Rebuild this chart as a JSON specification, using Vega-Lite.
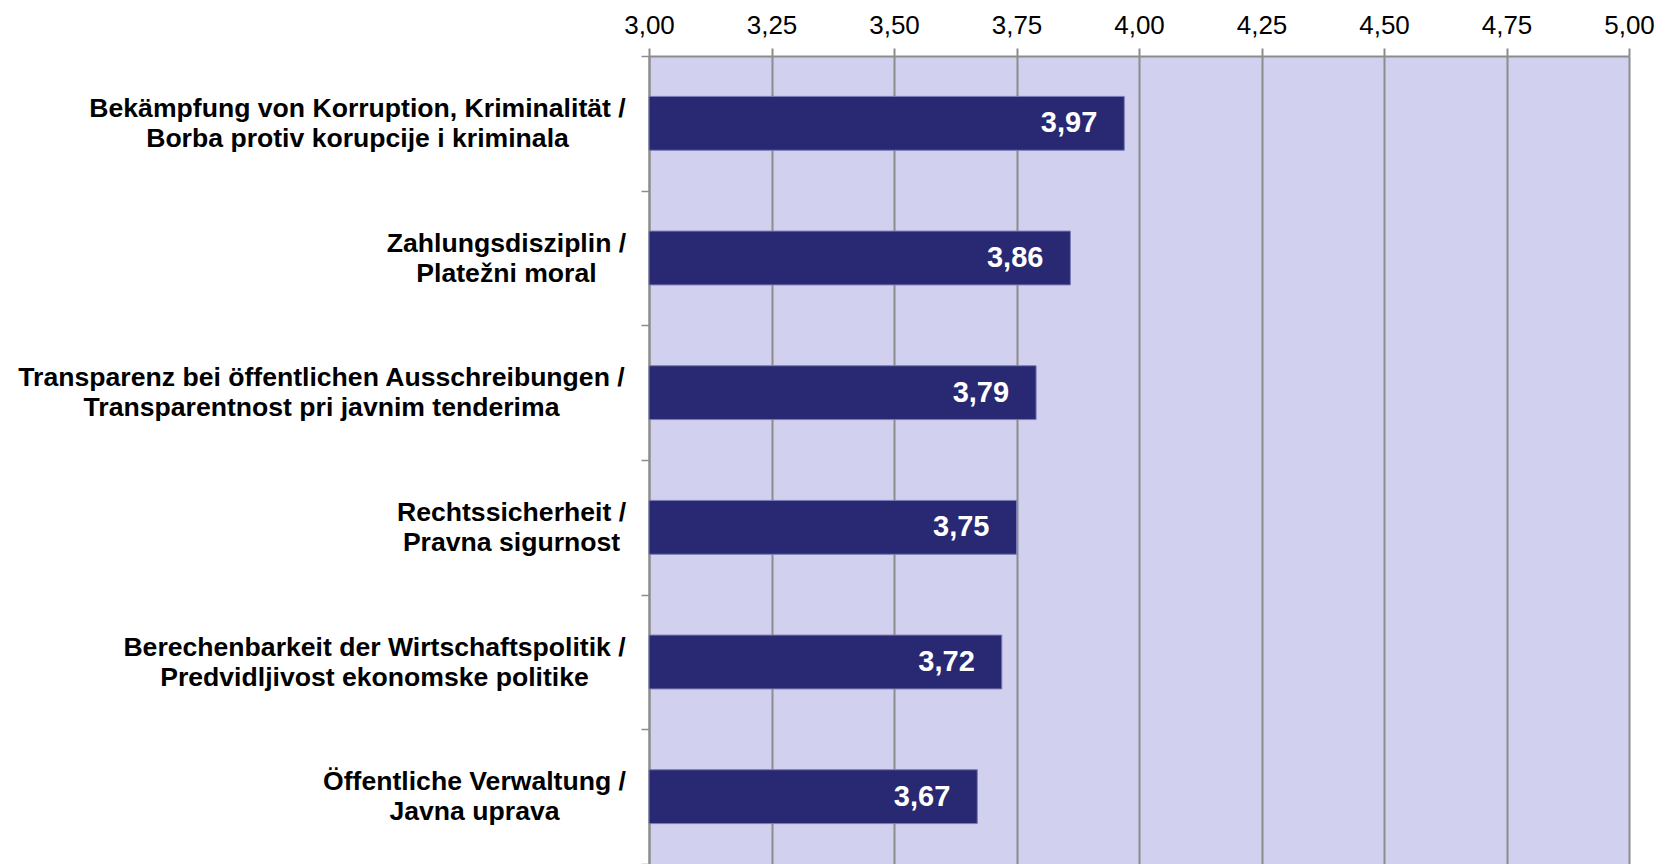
{
  "$schema": "https://vega.github.io/schema/vega-lite/v6.json",
  "width": 980,
  "height": 808,
  "autosize": {"type": "none"},
  "padding": {"left": 649, "top": 56, "right": 41, "bottom": 0},
  "background": "white",
  "config": {
    "locale": {"number": {"decimal": ",", "thousands": ".", "grouping": [3], "currency": ["", " €"]}},
    "view": {"stroke": null, "fill": "#d1d1ef"},
    "font": "Liberation Sans"
  },
  "data": {
    "values": [
      {"category": "Bekämpfung von Korruption, Kriminalität / Borba protiv korupcije i kriminala", "value": 3.97},
      {"category": "Zahlungsdisziplin / Platežni moral", "value": 3.86},
      {"category": "Transparenz bei öffentlichen Ausschreibungen / Transparentnost pri javnim tenderima", "value": 3.79},
      {"category": "Rechtssicherheit / Pravna sigurnost", "value": 3.75},
      {"category": "Berechenbarkeit der Wirtschaftspolitik / Predvidljivost ekonomske politike", "value": 3.72},
      {"category": "Öffentliche Verwaltung / Javna uprava", "value": 3.67}
    ]
  },
  "encoding": {
    "y": {
      "field": "category",
      "type": "nominal",
      "sort": null,
      "scale": {"paddingInner": 0, "paddingOuter": 0},
      "axis": {
        "title": null,
        "orient": "left",
        "tickBand": "extent",
        "tickSize": 8,
        "tickColor": "#8c8c8c",
        "tickWidth": 1.5,
        "domainColor": "#8c8c8c",
        "domainWidth": 2,
        "labelFont": "Liberation Sans",
        "labelFontSize": 26.6,
        "labelFontWeight": "bold",
        "labelColor": "black",
        "labelAlign": "center",
        "labelBaseline": "middle",
        "labelLineHeight": 30,
        "labelOffset": -15,
        "labelLimit": 900,
        "labelExpr": "isString(datum.value) ? [split(datum.value, ' / ')[0] + ' /', split(datum.value, ' / ')[1]] : ''",
        "labelPadding": {
          "condition": [
            {"test": "isString(datum.value) && indexof(datum.value, 'Bekämpfung') == 0", "value": 284},
            {"test": "isString(datum.value) && indexof(datum.value, 'Zahlungs') == 0", "value": 135},
            {"test": "isString(datum.value) && indexof(datum.value, 'Transparenz') == 0", "value": 320},
            {"test": "isString(datum.value) && indexof(datum.value, 'Rechts') == 0", "value": 130},
            {"test": "isString(datum.value) && indexof(datum.value, 'Berechen') == 0", "value": 267}
          ],
          "value": 167
        }
      }
    }
  },
  "layer": [
    {
      "mark": {"type": "bar", "color": "#282873", "stroke": "#7c7cb8", "strokeWidth": 1, "height": {"band": 0.4}},
      "encoding": {
        "x": {
          "field": "value",
          "type": "quantitative",
          "scale": {"domain": [3, 5], "nice": false, "zero": false},
          "axis": {
            "orient": "top",
            "title": null,
            "values": [3, 3.25, 3.5, 3.75, 4, 4.25, 4.5, 4.75, 5],
            "format": ".2f",
            "grid": true,
            "gridColor": "#8c8c8c",
            "gridWidth": 2,
            "tickSize": 8,
            "tickColor": "#8c8c8c",
            "tickWidth": 2,
            "domainColor": "#8c8c8c",
            "domainWidth": 2,
            "labelFont": "Liberation Sans",
            "labelFontSize": 26,
            "labelColor": "black",
            "labelPadding": 10,
            "labelFlush": false
          }
        },
        "x2": {"datum": 3}
      }
    },
    {
      "mark": {"type": "text", "align": "right", "baseline": "middle", "dx": -27, "color": "white", "fontSize": 29, "fontWeight": "bold", "font": "Liberation Sans"},
      "encoding": {
        "x": {"field": "value", "type": "quantitative"},
        "text": {"field": "value", "type": "quantitative", "format": ".2f"}
      }
    }
  ]
}
